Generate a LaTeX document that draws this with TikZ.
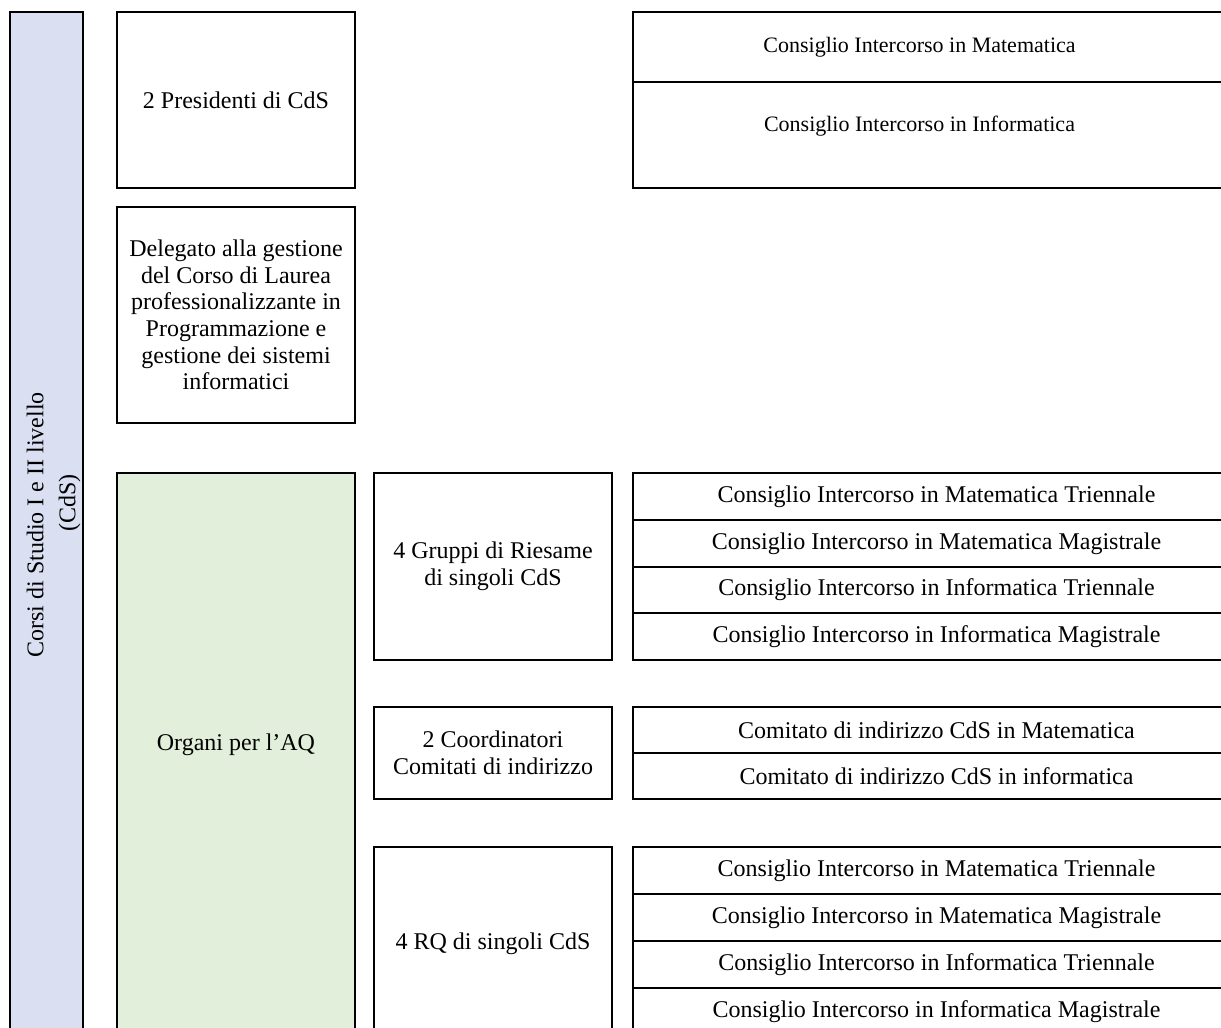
\documentclass[tikz,border=0pt]{standalone}
\usepackage{fontspec}
\setmainfont{Liberation Serif}
\definecolor{cdsblue}{HTML}{DAE0F2}
\definecolor{aqgreen}{HTML}{E2EFDA}
\tikzset{
  cell/.style={draw,line width=0.9pt,inner sep=0pt,align=center,font=\fontsize{12}{13.3}\selectfont},
  rowcell/.style={draw,line width=0.9pt,inner sep=0pt,minimum width=303.5pt,font=\fontsize{12}{14}\selectfont},
  toptext/.style={font=\fontsize{11}{13}\selectfont,inner sep=0pt},
  bartext/.style={inner sep=0pt,align=center,font=\fontsize{12}{16}\selectfont,xshift=3.5pt,yshift=3pt,rotate=90}
}
\begin{document}
\begin{tikzpicture}[x=0.5pt,y=-0.5pt]
\useasboundingbox (0,0) rectangle (1221,1028);
\clip (0,0) rectangle (1221,1028);
% left column
\node[cell,fill=cdsblue,minimum width=36.5pt,minimum height=519pt,label={[bartext]center:Corsi di Studio I e II livello\\\hspace*{22pt}(CdS)}] (cds) at (46.5,531) {};
\node[cell,minimum width=119pt,minimum height=88pt] (pres) at (236,100) {2 Presidenti di CdS};
\node[cell,minimum width=119pt,minimum height=108pt] (deleg) at (236,315) {Delegato alla gestione\\del Corso di Laurea\\professionalizzante in\\Programmazione e\\gestione dei sistemi\\informatici};
\node[cell,fill=aqgreen,minimum width=119pt,minimum height=283.5pt,label={[cell,draw=none,yshift=6pt]center:Organi per l'AQ}] (aq) at (236,756.5) {};
% middle column
\node[cell,minimum width=119pt,minimum height=93.5pt] (riesame) at (493,566.5) {4 Gruppi di Riesame\\di singoli CdS};
\node[cell,minimum width=119pt,minimum height=46pt] (coord) at (493,753) {2 Coordinatori\\Comitati di indirizzo};
\node[cell,minimum width=119pt,minimum height=96.5pt] (rq) at (493,943.5) {4 RQ di singoli CdS};
% right column: top
\node[rowcell,minimum height=35pt,label={[toptext,xshift=-8.5pt]center:Consiglio Intercorso in Matematica}] (cimat) at (936.5,47) {};
\node[rowcell,minimum height=53pt,label={[toptext,xshift=-8.5pt,yshift=4.5pt]center:Consiglio Intercorso in Informatica}] (ciinf) at (936.5,135) {};
% right column: riesame
\node[rowcell,minimum height=23.5pt] (rmt) at (936.5,496.5) {Consiglio Intercorso in Matematica Triennale};
\node[rowcell,minimum height=23.5pt] (rmm) at (936.5,543.5) {Consiglio Intercorso in Matematica Magistrale};
\node[rowcell,minimum height=23pt] (rit) at (936.5,590) {Consiglio Intercorso in Informatica Triennale};
\node[rowcell,minimum height=23.5pt] (rim) at (936.5,636.5) {Consiglio Intercorso in Informatica Magistrale};
% right column: comitati
\node[rowcell,minimum height=23pt] (cmat) at (936.5,730) {Comitato di indirizzo CdS in Matematica};
\node[rowcell,minimum height=23pt] (cinf) at (936.5,776) {Comitato di indirizzo CdS in informatica};
% right column: RQ
\node[rowcell,minimum height=23.5pt] (qmt) at (936.5,870.5) {Consiglio Intercorso in Matematica Triennale};
\node[rowcell,minimum height=23.5pt] (qmm) at (936.5,917.5) {Consiglio Intercorso in Matematica Magistrale};
\node[rowcell,minimum height=23.5pt] (qit) at (936.5,964.5) {Consiglio Intercorso in Informatica Triennale};
\node[rowcell,minimum height=23.5pt] (qim) at (936.5,1011.5) {Consiglio Intercorso in Informatica Magistrale};
\end{tikzpicture}
\end{document}
